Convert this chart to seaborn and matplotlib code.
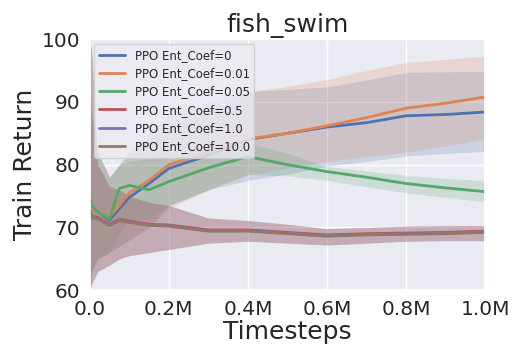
import numpy as np
import pandas as pd
import matplotlib
matplotlib.use('Agg')
import matplotlib.pyplot as plt
import seaborn as sns

# timesteps in millions
steps = [0, 0.005, 0.02, 0.05, 0.075, 0.1, 0.15, 0.2, 0.3, 0.4, 0.5, 0.6, 0.7, 0.8, 0.9, 1.0]

labels = ['PPO Ent_Coef=0', 'PPO Ent_Coef=0.01', 'PPO Ent_Coef=0.05',
          'PPO Ent_Coef=0.5', 'PPO Ent_Coef=1.0', 'PPO Ent_Coef=10.0']

mean_0 = [74.5, 73.0, 72.5, 71.2, 73.0, 74.8, 77.0, 79.4, 81.5, 84.0, 85.0, 86.0, 86.7, 87.8, 88.0, 88.4]
lo_0 = [60, 63, 65, 66, 67, 68, 70, 73.5, 76, 77.5, 78.5, 79.8, 80.5, 81.4, 81.8, 82.1]
hi_0 = [92, 88, 82, 78, 80, 82, 85, 88, 90, 91.7, 92, 92.4, 93.5, 94.7, 94.8, 94.9]

mean_001 = [74.0, 73.0, 72.5, 71.7, 73.5, 75.5, 77.5, 80.0, 82.0, 84.1, 85.0, 86.2, 87.5, 89.0, 89.8, 90.8]
lo_001 = [60, 63, 65, 66, 67, 68, 70, 73, 76, 78.3, 79.5, 80.5, 81.3, 82.0, 83.0, 84.1]
hi_001 = [90, 87, 82, 78, 80, 82, 84, 86, 88.5, 91.6, 92.5, 93.6, 95, 96.3, 96.8, 97.3]

mean_005 = [74.0, 73.5, 72.5, 71.4, 76.2, 76.7, 76.0, 77.3, 79.5, 81.3, 80.0, 78.9, 78.0, 77.0, 76.3, 75.7]
lo_005 = [60, 63, 65, 66, 69, 71, 71.5, 73.5, 76, 78.5, 78.2, 77.5, 76.5, 75.5, 74.8, 74.1]
hi_005 = [92, 88, 82, 78, 80, 80.5, 81, 81.5, 82.5, 83.5, 81.8, 79.7, 79.0, 78.3, 77.8, 77.5]

mean_05 = [72.8, 71.8, 71.6, 70.5, 71.3, 71.0, 70.5, 70.4, 69.6, 69.6, 69.2, 68.8, 69.0, 69.1, 69.2, 69.4]
mean_1 = [72.6, 71.6, 71.5, 70.4, 71.2, 70.9, 70.4, 70.3, 69.5, 69.5, 69.1, 68.7, 68.9, 69.0, 69.1, 69.3]
mean_10 = [72.5, 71.5, 71.4, 70.3, 71.1, 70.8, 70.3, 70.2, 69.4, 69.4, 69.0, 68.6, 68.8, 68.9, 69.0, 69.2]
lo_low = [60, 61, 63, 64, 65, 65.5, 66, 66.5, 67.5, 67.8, 67.5, 67.2, 67.5, 67.8, 67.9, 67.9]
hi_low = [100, 98, 80, 76.5, 76, 75, 74, 73.5, 71.5, 71.1, 70.5, 69.8, 70.0, 70.2, 70.3, 70.3]

means = [mean_0, mean_001, mean_005, mean_05, mean_1, mean_10]
lows = [lo_0, lo_001, lo_005, lo_low, lo_low, lo_low]
highs = [hi_0, hi_001, hi_005, hi_low, hi_low, hi_low]

sns.set_theme(style='darkgrid')
palette = sns.color_palette('deep')

rows = []
for lab, m in zip(labels, means):
    for s, v in zip(steps, m):
        rows.append({'Timesteps': s, 'Train Return': v, 'run': lab})
df = pd.DataFrame(rows)

fig = plt.figure(figsize=(5.25, 3.6), dpi=100)
ax = fig.add_axes([0.171, 0.194, 0.753, 0.697])

for i, lab in enumerate(labels):
    ax.fill_between(steps, lows[i], highs[i], color=palette[i], alpha=0.2, linewidth=0)

sns.lineplot(data=df, x='Timesteps', y='Train Return', hue='run', palette=palette[:6],
             linewidth=2, ax=ax)

ax.set_xlim(0, 1.0)
ax.set_ylim(60, 100)
ax.set_xticks([0, 0.2, 0.4, 0.6, 0.8, 1.0])
ax.set_xticklabels(['0.0', '0.2M', '0.4M', '0.6M', '0.8M', '1.0M'])
ax.set_yticks([60, 70, 80, 90, 100])
ax.tick_params(labelsize=14.5, pad=1)
ax.set_xlabel('Timesteps', fontsize=18, labelpad=1)
ax.set_ylabel('Train Return', fontsize=18, labelpad=3)
ax.set_title('fish_swim', fontsize=18, pad=5)
ax.legend(loc='upper left', fontsize=8.5, framealpha=0.8, handlelength=2.2,
          borderaxespad=0.4, labelspacing=0.45)

fig.savefig('out.png', dpi=100)
